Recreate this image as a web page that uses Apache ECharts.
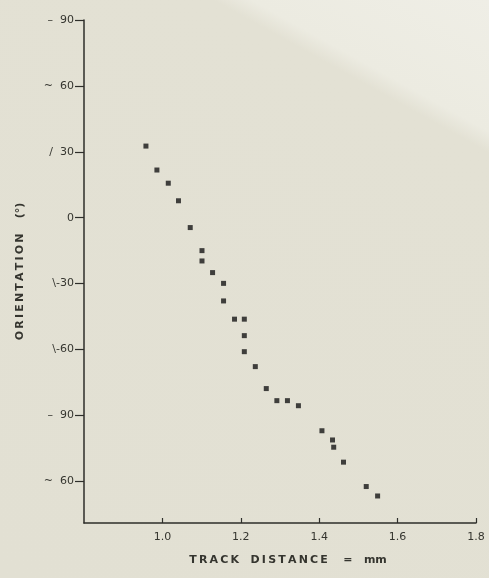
<!DOCTYPE html>
<html>
<head>
<meta charset="utf-8">
<script src="https://cdn.jsdelivr.net/npm/echarts@6/dist/echarts.min.js"></script>
<style>
  html, body { margin: 0; padding: 0; }
  body { background: linear-gradient(29deg, #e2e0d3 0%, #e3e1d4 82%, #ecebe1 84.5%, #efeee6 100%); }
  #chart { width: 489px; height: 578px; }
</style>
</head>
<body>
<div id="chart"></div>
<script>
// track distance (mm) and orientation (deg)
const trackDistance = [0.958, 0.986, 1.015, 1.041, 1.071, 1.101, 1.101, 1.128, 1.156, 1.156,
  1.184, 1.209, 1.209, 1.209, 1.237, 1.265, 1.292, 1.319, 1.347, 1.407, 1.434, 1.437, 1.462, 1.520, 1.549];
const orientation = [32.6, 21.7, 15.7, 7.7, -4.5, -15, -19.7, -25, -29.9, -37.9,
  -46.2, -46.2, -53.7, -61, -67.8, -77.8, -83.3, -83.3, -85.6, -97, -101.2, -104.5, -111.3, -122.4, -126.7];

// y ticks and the labels as printed on the figure
const yTickValues = [90, 60, 30, 0, -30, -60, -90, -120];
const yTickLabels = ['–  90', '~  60', '/  30', '0', '\\-30', '\\-60', '–  90', '~  60'];
const xTickValues = [1.0, 1.2, 1.4, 1.6, 1.8];
const xTickLabels = ['1.0', '1.2', '1.4', '1.6', '1.8'];

// spread letters out like the wide lettering of the original
const spaced = s => s.split('').join('\u2009');

const chart = echarts.init(document.getElementById('chart'));

const axisColor = '#2e2e2a';
const textColor = '#35352f';
const font = 'DejaVu Sans';

chart.setOption({
  backgroundColor: 'transparent',
  animation: false,
  grid: { left: 84, right: 13, top: 20, bottom: 55 },
  xAxis: {
    type: 'value',
    min: 0.8,
    max: 1.8,
    name: spaced('TRACK') + '   ' + spaced('DISTANCE') + '    =   mm',
    nameLocation: 'middle',
    nameGap: 32,
    nameTextStyle: { color: textColor, fontFamily: font, fontSize: 11, fontWeight: 'bold', padding: [0, 0, 0, 16] },
    axisLine: { show: true, onZero: false, lineStyle: { color: axisColor, width: 1.5 } },
    axisTick: {
      show: true, inside: true, length: 5,
      customValues: xTickValues,
      lineStyle: { color: axisColor, width: 1.2 }
    },
    axisLabel: {
      customValues: xTickValues,
      color: textColor, fontFamily: font, fontSize: 11, margin: 9,
      formatter: v => xTickLabels[xTickValues.findIndex(t => Math.abs(t - v) < 1e-6)] || ''
    },
    splitLine: { show: false }
  },
  yAxis: {
    type: 'value',
    min: -139,
    max: 90,
    name: spaced('ORIENTATION') + '    (°)',
    nameLocation: 'middle',
    nameRotate: 90,
    nameGap: 58,
    nameTextStyle: { color: textColor, fontFamily: font, fontSize: 11, fontWeight: 'bold' },
    axisLine: { show: true, onZero: false, lineStyle: { color: axisColor, width: 1.5 } },
    axisTick: {
      show: true, length: 9,
      customValues: yTickValues,
      lineStyle: { color: axisColor, width: 1.2 }
    },
    axisLabel: {
      customValues: yTickValues,
      color: textColor, fontFamily: font, fontSize: 11, margin: 10,
      formatter: v => yTickLabels[yTickValues.indexOf(v)] || ''
    },
    splitLine: { show: false }
  },
  series: [{
    type: 'scatter',
    symbol: 'rect',
    symbolSize: 5,
    itemStyle: { color: '#151515' },
    data: trackDistance.map((x, i) => [x, orientation[i]])
  }]
});
</script>
</body>
</html>
